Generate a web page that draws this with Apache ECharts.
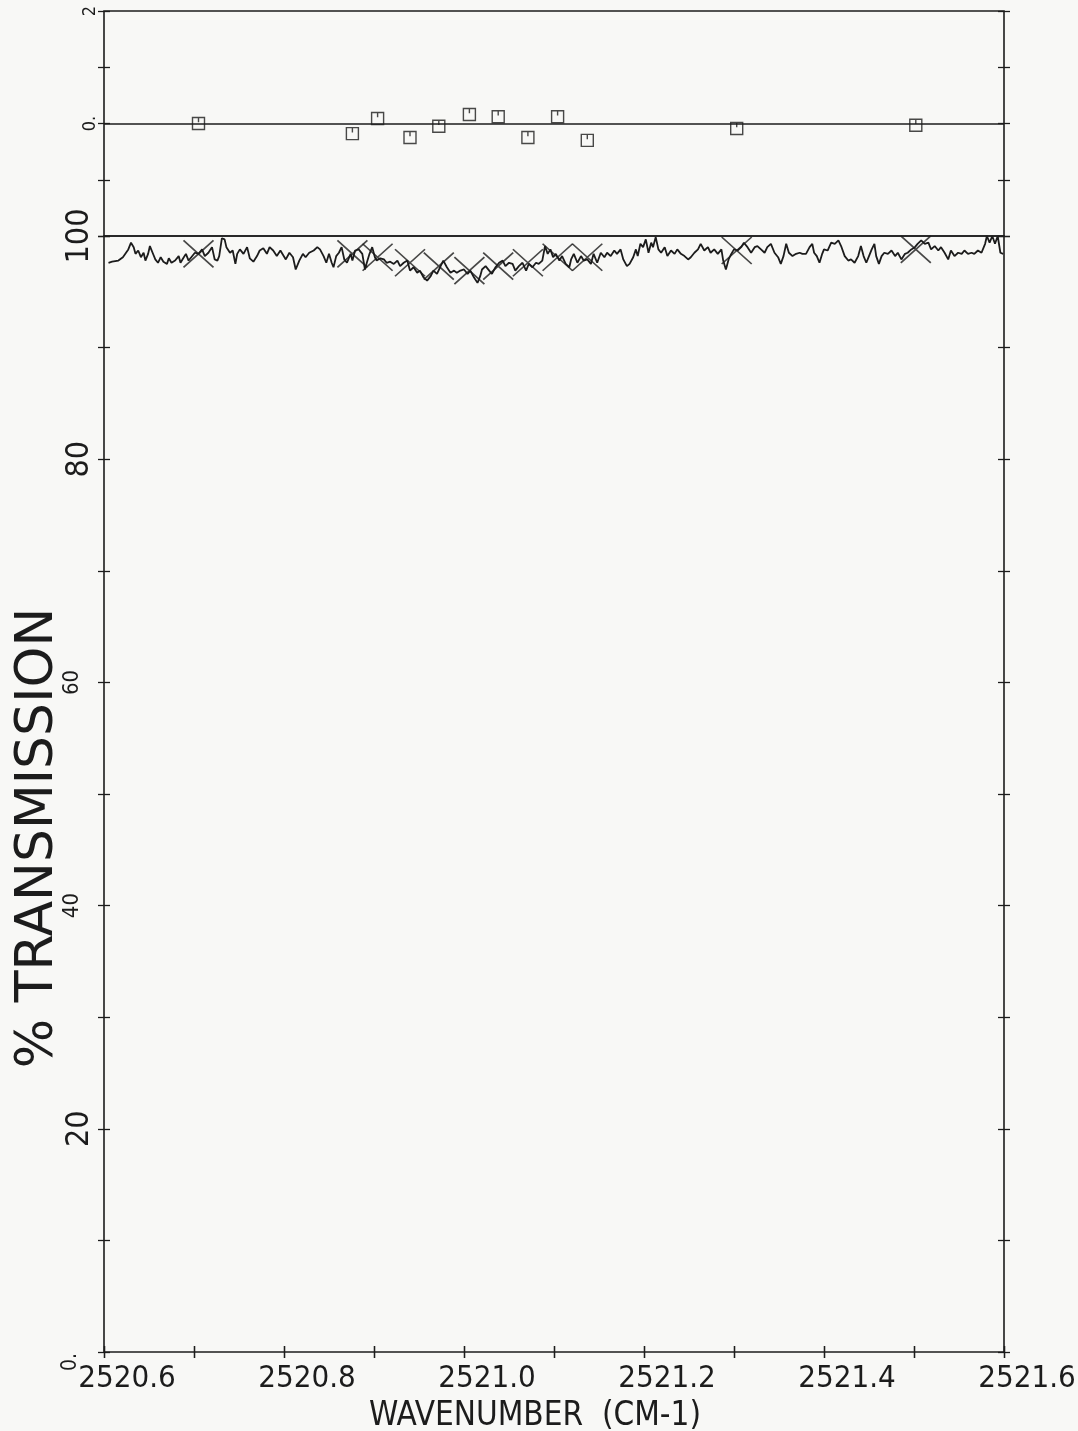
<!DOCTYPE html>
<html>
<head>
<meta charset="utf-8">
<script src="https://cdn.jsdelivr.net/npm/echarts@6/dist/echarts.min.js"></script>
<style>
html,body{margin:0;padding:0;background:#f8f8f6;}
#c{width:1078px;height:1431px;}
</style>
</head>
<body>
<div id="c"></div>
<script>
// ---------- data ----------
const wnObs = [
2520.605,2520.609,2520.616,2520.621,2520.627,2520.630,2520.633,2520.635,2520.638,2520.641,
2520.644,2520.646,2520.649,2520.651,2520.654,2520.657,2520.660,2520.663,2520.666,2520.670,
2520.672,2520.675,2520.679,2520.683,2520.685,2520.688,2520.691,2520.694,2520.697,2520.701,
2520.705,2520.709,2520.712,2520.716,2520.720,2520.723,2520.726,2520.728,2520.731,2520.734,
2520.736,2520.740,2520.743,2520.746,2520.748,2520.751,2520.755,2520.759,2520.762,2520.766,
2520.770,2520.773,2520.777,2520.781,2520.784,2520.788,2520.792,2520.796,
2520.798,2520.802,2520.806,2520.810,2520.813,2520.817,2520.821,2520.824,2520.828,2520.833,
2520.837,2520.840,2520.844,2520.847,2520.850,2520.853,2520.855,2520.858,2520.861,2520.864,
2520.867,2520.870,2520.874,2520.876,2520.879,2520.883,2520.887,2520.890,2520.892,2520.895,
2520.898,2520.901,2520.903,2520.907,2520.911,2520.914,2520.918,2520.922,2520.926,2520.929,
2520.933,2520.937,2520.940,2520.944,2520.948,2520.951,2520.955,2520.959,2520.963,2520.966,
2520.970,2520.974,2520.977,2520.981,2520.985,2520.989,2520.992,2520.996,
2521.000,2521.004,2521.007,2521.011,2521.015,2521.018,2521.020,2521.024,2521.028,2521.031,
2521.035,2521.039,2521.043,2521.046,2521.050,2521.054,2521.057,2521.061,2521.065,2521.069,
2521.072,2521.076,2521.080,2521.083,2521.087,2521.090,2521.093,2521.096,2521.099,2521.102,
2521.106,2521.109,2521.113,2521.117,2521.119,2521.122,2521.126,2521.130,2521.133,2521.137,
2521.141,2521.144,2521.148,2521.152,2521.156,2521.159,2521.163,2521.167,2521.170,2521.174,
2521.177,2521.181,2521.184,2521.188,2521.191,2521.193,2521.196,2521.199,2521.202,
2521.205,2521.208,2521.210,2521.213,2521.216,2521.219,2521.223,2521.226,2521.230,2521.234,
2521.237,2521.241,2521.245,2521.249,2521.252,2521.256,2521.260,2521.263,2521.267,2521.271,
2521.274,2521.278,2521.282,2521.286,2521.288,2521.291,2521.294,2521.297,2521.300,2521.304,
2521.308,2521.311,2521.315,2521.319,2521.323,2521.326,2521.330,2521.334,2521.337,2521.341,
2521.345,2521.349,2521.352,2521.355,2521.358,2521.361,2521.365,2521.369,2521.373,2521.376,
2521.380,2521.384,2521.387,2521.389,2521.392,2521.395,2521.398,2521.400,2521.404,
2521.408,2521.412,2521.416,2521.419,2521.423,2521.427,2521.430,2521.434,2521.438,2521.441,
2521.444,2521.447,2521.450,2521.453,2521.456,2521.458,2521.461,2521.464,2521.467,2521.471,
2521.475,2521.479,2521.482,2521.486,2521.490,2521.493,2521.497,2521.501,2521.504,2521.508,
2521.512,2521.516,2521.519,2521.523,2521.527,2521.530,2521.534,2521.538,2521.541,2521.545,
2521.549,2521.553,2521.556,2521.560,2521.564,2521.567,2521.571,2521.575,2521.579,2521.581,
2521.584,2521.587,2521.590,2521.593,2521.596,2521.599
];
const trObs = [
97.6,97.7,97.8,98.1,98.8,99.4,99.0,98.4,98.7,98.1,
98.5,97.8,98.4,99.1,98.5,97.9,97.6,98.1,97.7,97.5,
98.0,97.6,97.8,98.2,97.6,98.0,98.4,97.8,98.1,98.5,
98.4,98.8,98.2,98.5,99.0,97.9,97.8,98.2,99.8,99.7,
99.0,98.5,98.7,97.5,98.4,98.8,98.4,99.0,98.0,97.7,
98.2,98.7,98.9,98.4,99.0,98.7,98.2,98.7,
98.7,97.9,98.5,98.1,97.0,97.8,98.4,98.1,98.5,98.7,
99.0,98.8,98.2,97.6,98.4,97.6,97.2,98.2,98.5,99.0,
97.9,97.6,98.4,97.8,98.7,98.8,98.4,97.0,97.6,98.4,
99.0,98.1,97.8,98.0,97.9,97.6,97.7,97.5,97.8,97.3,
97.6,97.8,96.9,97.2,96.7,96.9,96.3,96.0,96.4,96.9,
96.6,97.3,97.8,97.2,96.7,96.9,96.7,96.9,
97.0,96.6,96.9,96.3,95.8,96.4,97.0,97.3,96.9,96.6,
97.2,97.6,97.8,97.3,97.6,97.5,96.9,97.3,97.6,96.9,
97.5,97.2,97.6,97.5,97.8,99.1,98.4,98.8,98.1,98.4,
97.8,98.2,97.5,97.2,97.9,98.4,97.6,98.2,97.8,97.9,
97.5,98.4,97.6,98.5,98.1,98.5,98.2,98.7,98.4,98.8,
97.9,97.3,97.5,98.1,98.8,98.2,99.3,99.0,99.7,
98.5,99.4,99.0,99.9,98.8,98.5,99.0,98.2,98.7,98.4,
98.8,98.4,98.2,97.9,98.1,98.5,98.8,99.3,98.7,99.0,
98.5,98.8,98.4,98.8,97.8,97.0,97.9,98.4,98.8,98.7,
99.0,99.4,99.0,98.5,99.0,99.1,98.8,98.5,99.0,99.3,
98.5,98.1,97.5,98.2,99.3,98.5,98.2,98.4,98.5,98.4,
98.4,99.0,99.3,98.5,98.2,97.6,98.4,98.8,98.7,
99.4,99.3,99.6,99.1,98.2,97.8,97.9,97.6,98.2,99.1,
98.2,97.6,98.2,98.8,99.3,98.2,97.5,98.2,98.5,98.4,
98.7,98.2,98.5,97.9,98.4,98.5,98.8,99.0,99.3,99.6,
99.3,99.4,98.8,99.1,98.7,99.0,98.5,97.9,98.7,98.2,
98.5,98.4,98.7,98.4,98.5,98.4,98.7,98.5,99.3,100.0,
99.4,100.0,99.3,100.0,98.5,98.4
];
// fitted points (X markers) and residuals (squares)
const wnFit  = [2520.705,2520.876,2520.904,2520.940,2520.972,2521.006,2521.038,2521.071,2521.104,2521.137,2521.303,2521.502];
const trFit  = [98.4,98.4,98.1,97.6,97.3,96.9,97.3,97.6,98.1,98.1,98.7,98.8];
const resid  = [0.00,-0.18,0.09,-0.25,-0.05,0.16,0.12,-0.25,0.12,-0.30,-0.09,-0.03];

// tick labels
const xTickValues = [2520.6,2520.8,2521.0,2521.2,2521.4,2521.6];
const xTickLabels = ['2520.6','2520.8','2521.0','2521.2','2521.4','2521.6'];
const yTickValues = [0,20,40,60,80,100];
const yTickLabels = ['0.','20','40','60','80','100'];
const ySmallLabels = ['40','60'];
const yZeroLabel = '0.';
const resTickValues = [0,2];
const resTickLabels = ['0.','2'];

// ---------- chart ----------
const FONT = "'DejaVu Sans Condensed','DejaVu Sans',sans-serif";
const TFONT = "'DejaVu Sans',sans-serif";
const INK = '#1c1c1c';
const chart = echarts.init(document.getElementById('c'), null, {renderer:'canvas'});

function xFmt(v){
  for (let i=0;i<xTickValues.length;i++) if (Math.abs(v-xTickValues[i])<1e-6) return xTickLabels[i];
  return '';
}
function yFmt(v){
  for (let i=0;i<yTickValues.length;i++) if (Math.abs(v-yTickValues[i])<1e-6){
    const s = yTickLabels[i];
    if (s === yZeroLabel) return '{z|'+s+'}';
    return (ySmallLabels.indexOf(s)>=0 ? '{s|'+s+'}' : '{b|'+s+'}');
  }
  return '';
}
function rFmt(v){
  for (let i=0;i<resTickValues.length;i++) if (Math.abs(v-resTickValues[i])<1e-6) return resTickLabels[i];
  return '';
}

const gridStyle = {show:true, borderColor:INK, borderWidth:1.6, backgroundColor:'transparent',
  containLabel:false, outerBoundsMode:'none'};
const tickLine = {color:INK, width:1.3};

function xAx(grid, pos, inside, labels){
  return {type:'value', gridIndex:grid, position:pos, min:2520.6, max:2521.6, interval:0.1,
    axisLine:{show:false}, splitLine:{show:false},
    axisTick:{show:true, inside:inside, length:6, lineStyle:tickLine},
    axisLabel:{show:!!labels, formatter:xFmt, margin:11, fontFamily:FONT, fontSize:31, color:INK,
      align:'center', padding:[0,0,0,46]}
  };
}
function yAx(grid, pos, inside, min, max, interval, fmt, labelOpt){
  const a = {type:'value', gridIndex:grid, position:pos, min:min, max:max, interval:interval,
    axisLine:{show:false}, splitLine:{show:false},
    axisTick:{show:true, inside:inside, length:6, lineStyle:tickLine},
    axisLabel:{show:false}
  };
  if (fmt) a.axisLabel = Object.assign({show:true, formatter:fmt, rotate:90, fontFamily:FONT, color:INK, showMinLabel:true, showMaxLabel:true}, labelOpt);
  return a;
}

const yMain = yAx(1,'left',false,0,100,10,yFmt,{margin:5,
  rich:{
    b:{fontFamily:FONT,fontSize:32,color:INK,padding:[0,0,3,0]},
    s:{fontFamily:FONT,fontSize:22,color:INK,padding:[0,0,16,0]},
    z:{fontFamily:FONT,fontSize:21,color:INK,padding:[0,20,18,0]}
  }});
yMain.name = '% TRANSMISSION';
yMain.nameLocation = 'middle';
yMain.nameRotate = 90;
yMain.nameGap = 40;
yMain.nameMoveOverlap = false;
yMain.nameTextStyle = {fontFamily:TFONT, fontSize:52, color:INK, padding:[0,88,0,0]};

const xMain = xAx(1,'bottom',false,true);
xMain.name = 'WAVENUMBER  (CM-1)';
xMain.nameLocation = 'middle';
xMain.nameGap = 48;
xMain.nameMoveOverlap = false;
xMain.nameTextStyle = {fontFamily:FONT, fontSize:33, color:INK, padding:[0,38,0,0]};

const option = {
  backgroundColor:'#f8f8f6',
  animation:false,
  grid:[
    Object.assign({left:104, right:74, top:11, height:225}, gridStyle),
    Object.assign({left:104, right:74, top:236, height:1116}, gridStyle)
  ],
  xAxis:[
    {type:'value', gridIndex:0, min:2520.6, max:2521.6, show:false},
    xMain,
    xAx(1,'bottom',true,false),
    xAx(1,'top',false,false),
    xAx(1,'top',true,false)
  ],
  yAxis:[
    yAx(0,'left',false,-2,2,1,rFmt,{margin:5, fontSize:18}),
    yAx(0,'left',true,-2,2,1),
    yAx(0,'right',false,-2,2,1),
    yAx(0,'right',true,-2,2,1),
    yMain,
    yAx(1,'left',true,0,100,10),
    yAx(1,'right',false,0,100,10),
    yAx(1,'right',true,0,100,10)
  ],
  series:[
    {type:'line', xAxisIndex:1, yAxisIndex:4, showSymbol:false, symbol:'none',
     lineStyle:{color:INK, width:1.8}, data: wnObs.map((w,i)=>[w,trObs[i]]), z:3},
    {type:'scatter', xAxisIndex:1, yAxisIndex:4,
     symbol:'path://M0,0L10,10M10,0L0,10', symbolSize:[30,27],
     itemStyle:{color:'none', borderColor:INK, borderWidth:1.6},
     data: wnFit.map((w,i)=>[w,trFit[i]]), z:4},
    {type:'scatter', xAxisIndex:0, yAxisIndex:0,
     symbol:'path://M0,0H10V10H0ZM5,0V4', symbolSize:12,
     itemStyle:{color:'none', borderColor:INK, borderWidth:1.4},
     data: wnFit.map((w,i)=>[w,resid[i]]), z:4,
     markLine:{silent:true, symbol:['none','none'], label:{show:false},
       lineStyle:{color:INK, width:1.6, type:'solid'}, data:[{yAxis:0}]}}
  ]
};
chart.setOption(option);
</script>
</body>
</html>
